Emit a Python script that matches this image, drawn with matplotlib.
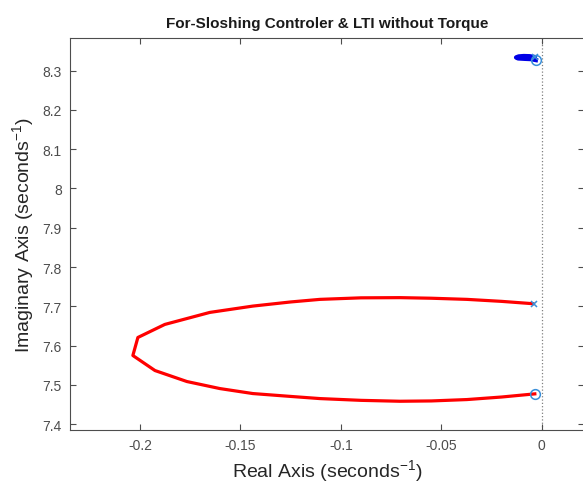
import matplotlib
matplotlib.use("Agg")
import matplotlib.pyplot as plt
from matplotlib.ticker import FuncFormatter

plt.rcParams['font.family'] = ['Liberation Sans', 'DejaVu Sans']

# root locus branch around the lower mode (pole -> zero)
red_re = [-0.0045, -0.0200, -0.0373, -0.0550, -0.0706, -0.0900, -0.1104, -0.1250,
          -0.1438, -0.1652, -0.1876, -0.2010, -0.2035, -0.1925, -0.1766, -0.1602,
          -0.1438, -0.1250, -0.1104, -0.0900, -0.0706, -0.0550, -0.0373, -0.0200, -0.0035]
red_im = [7.7066, 7.7125, 7.7176, 7.7205, 7.7220, 7.7215, 7.7176, 7.7110,
          7.7005, 7.6844, 7.6538, 7.6206, 7.5747, 7.5364, 7.5084, 7.4905,
          7.4778, 7.4705, 7.4650, 7.4605, 7.4582, 7.4590, 7.4625, 7.4690, 7.4770]

# branch around the upper mode
blue_re = [-0.0035, -0.0060, -0.0090, -0.0115, -0.0128, -0.0118, -0.0085, -0.0055, -0.0030]
blue_im = [8.3345, 8.3365, 8.3370, 8.3360, 8.3335, 8.3312, 8.3302, 8.3295, 8.3270]

poles_re = [-0.0040, -0.0035]
poles_im = [7.7066, 8.3345]
zeros_re = [-0.0035, -0.0030]
zeros_im = [7.4770, 8.3270]

fig = plt.figure(figsize=(5.83, 4.89), dpi=100)
ax = fig.add_axes([0.120, 0.1186, 0.8825, 0.8016])

ax.axvline(0, color='#808080', linestyle=':', linewidth=0.9, zorder=1)
ax.plot(red_re, red_im, color='red', linewidth=2.3, zorder=2)
ax.plot(blue_re, blue_im, color='#0000e6', linewidth=3.2, zorder=2)
ax.plot(poles_re, poles_im, 'x', color='#3a8fd9', markersize=5, mew=1.1, zorder=3)
ax.plot(zeros_re, zeros_im, 'o', mfc='none', mec='#3a8fd9', markersize=7, mew=1.1, zorder=3)

ax.set_xlim(-0.2348, 0.0212)
ax.set_ylim(7.385, 8.383)
ax.set_xticks([-0.2, -0.15, -0.1, -0.05, 0])
ax.set_yticks([7.4, 7.5, 7.6, 7.7, 7.8, 7.9, 8.0, 8.1, 8.2, 8.3])
fmt = FuncFormatter(lambda v, p: '%g' % round(v, 3))
ax.xaxis.set_major_formatter(fmt)
ax.yaxis.set_major_formatter(fmt)

ax.tick_params(direction='in', top=True, right=True, length=4, width=0.8,
               colors='#4d4d4d', labelsize=10, labelcolor='#4d4d4d', pad=6)
for s in ax.spines.values():
    s.set_color('#4d4d4d')
    s.set_linewidth(0.8)

ax.set_xlabel('Real Axis (seconds$^{\\mathregular{-1}}$)', fontsize=14, color='#262626')
ax.set_ylabel('Imaginary Axis (seconds$^{\\mathregular{-1}}$)', fontsize=14, color='#262626')
ax.set_title('For-Sloshing Controler & LTI without Torque', fontsize=11,
             fontweight='bold', color='#1a1a1a', pad=8)

fig.savefig('out.png', dpi=100)
